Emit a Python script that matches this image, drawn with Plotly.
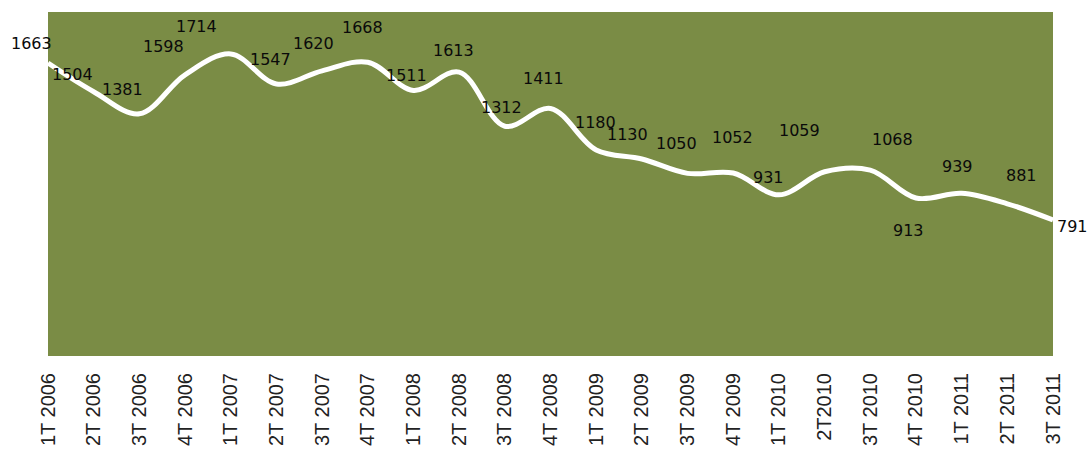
import plotly.graph_objects as go

# Quarterly series
quarters = [
    "1T 2006", "2T 2006", "3T 2006", "4T 2006",
    "1T 2007", "2T 2007", "3T 2007", "4T 2007",
    "1T 2008", "2T 2008", "3T 2008", "4T 2008",
    "1T 2009", "2T 2009", "3T 2009", "4T 2009",
    "1T 2010", "2T2010", "3T 2010", "4T 2010",
    "1T 2011", "2T 2011", "3T 2011",
]
values = [
    1663, 1504, 1381, 1598,
    1714, 1547, 1620, 1668,
    1511, 1613, 1312, 1411,
    1180, 1130, 1050, 1052,
    931, 1059, 1068, 913,
    939, 881, 791,
]

# Pixel offsets of each value label relative to its point (dx, dy; dy up)
label_dx = [-17, -21, -17, -22, -34, -6, -9, -5, -7, -6, -3, -7,
            -1, -14, -11, -1, -10, -25, 22, -7, -4, 14, 19]
label_dy = [20, 17, 24, 28, 27, 24, 27, 35, 15, 22, 19, 30,
            28, 24, 30, 36, 17, 41, 31, -32, 27, 28, -7]

x_idx = list(range(len(quarters)))

fig = go.Figure()
fig.add_trace(go.Scatter(
    x=x_idx, y=values, mode="lines",
    line=dict(color="#ffffff", width=5, shape="spline", smoothing=1),
    hoverinfo="skip", showlegend=False,
))

for i, v in enumerate(values):
    fig.add_annotation(
        x=i, y=v, xref="x", yref="y", text=str(v), showarrow=False,
        xshift=label_dx[i], yshift=label_dy[i],
        font=dict(family="DejaVu Sans", size=16, color="#0a0a0a"),
    )

fig.update_layout(
    width=1089, height=452,
    margin=dict(l=48, r=36, t=12, b=96),
    paper_bgcolor="#ffffff",
    plot_bgcolor="#7a8c45",
    showlegend=False,
)
fig.update_xaxes(
    range=[0, len(quarters) - 1], automargin=False,
    tickmode="array", tickvals=x_idx, ticktext=quarters,
    tickangle=-90, ticklabelstandoff=12,
    tickfont=dict(family="Liberation Sans", size=20, color="#222222"),
    showgrid=False, zeroline=False, showline=False, ticks="",
)
fig.update_yaxes(
    range=[35, 1947], visible=False, automargin=False,
    showgrid=False, zeroline=False,
)

fig.write_html("out.html")
